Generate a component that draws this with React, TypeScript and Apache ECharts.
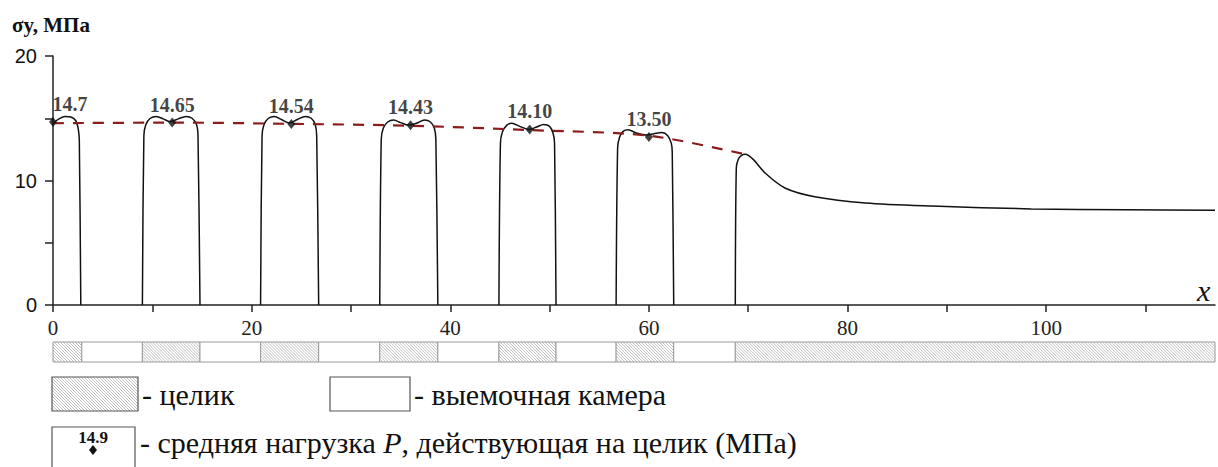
import React, { useEffect, useRef } from "react";
import * as echarts from "echarts";

// ---- data ----
const xTickValues = [0, 10, 20, 30, 40, 50, 60, 70, 80, 90, 100, 110];
const xLabelValues = [0, 20, 40, 60, 80, 100];
const yLabelValues = [0, 10, 20];

// stress curve over each pillar [x, sigma_y]
const pillar0 = [[0, 14.6], [0.6, 14.95], [1.2, 15.15], [1.8, 15.1], [2.3, 14.8], [2.55, 14.1], [2.65, 13.2], [2.8, 0]];
const pillar1 = [[9.0, 0], [9.15, 13.6], [9.35, 14.5], [9.8, 15.0], [10.4, 15.15], [11.1, 14.95], [11.8, 14.72], [12.6, 14.95], [13.4, 15.15], [14.0, 15.0], [14.45, 14.5], [14.6, 13.6], [14.8, 0]];
const pillar2 = [[20.9, 0], [21.05, 13.6], [21.25, 14.5], [21.7, 15.0], [22.3, 15.15], [23.0, 14.9], [23.8, 14.62], [24.6, 14.9], [25.4, 15.15], [26.0, 15.0], [26.4, 14.5], [26.55, 13.6], [26.75, 0]];
const pillar3 = [[32.9, 0], [33.05, 13.3], [33.25, 14.2], [33.7, 14.7], [34.3, 14.85], [35.0, 14.65], [35.8, 14.45], [36.6, 14.6], [37.4, 14.85], [38.0, 14.7], [38.4, 14.2], [38.55, 13.3], [38.75, 0]];
const pillar4 = [[44.9, 0], [45.05, 13.0], [45.25, 13.9], [45.7, 14.45], [46.2, 14.6], [47.0, 14.35], [47.9, 14.1], [48.7, 14.3], [49.4, 14.5], [50.0, 14.35], [50.35, 13.8], [50.5, 13.0], [50.65, 0]];
const pillar5 = [[56.7, 0], [56.85, 12.6], [57.05, 13.5], [57.4, 13.95], [57.9, 14.07], [58.8, 13.8], [59.7, 13.65], [60.5, 13.75], [61.3, 13.85], [61.9, 13.6], [62.25, 13.0], [62.35, 12.3], [62.5, 0]];
const massif = [[68.7, 0], [68.8, 11.0], [69.0, 11.7], [69.3, 12.0], [69.7, 12.1], [70.5, 11.7], [71.7, 10.6], [73.7, 9.4], [76.7, 8.7], [81.8, 8.2], [88.5, 7.95], [98.5, 7.72], [108, 7.65], [117, 7.62]];
const curves = [pillar0, pillar1, pillar2, pillar3, pillar4, pillar5, massif];

// mean load on pillars
const loadX = [0, 12, 24, 36, 48, 60];
const loadP = [14.7, 14.65, 14.54, 14.43, 14.1, 13.5];
const loadLabels = ["14.7", "14.65", "14.54", "14.43", "14.10", "13.50"];

// dashed envelope
const dashX = [0, 12, 24, 36, 48, 60, 69.7];
const dashY = [14.6, 14.65, 14.55, 14.4, 14.05, 13.6, 12.1];

// strip: [start, end, kind] kind 1 = pillar (целик), 0 = chamber
const stripSegments = [
  [0, 2.9, 1], [2.9, 9.0, 0], [9.0, 14.8, 1], [14.8, 20.9, 0], [20.9, 26.75, 1], [26.75, 32.9, 0],
  [32.9, 38.75, 1], [38.75, 44.9, 0], [44.9, 50.65, 1], [50.65, 56.7, 0], [56.7, 62.5, 1], [62.5, 68.7, 0], [68.7, 117, 1],
];

const X_MAX = 117;
const SERIF = "Liberation Serif";
const SANS = "Liberation Sans";
const HATCH = "#b0b0b0";

function hatch(x0: number, y0: number, x1: number, y1: number, step: number) {
  const out: any[] = [];
  for (let c = x0 - y1; c < x1 - y0; c += step) {
    const xa = Math.max(x0, y0 + c);
    const xb = Math.min(x1, y1 + c);
    if (xb > xa) {
      out.push({
        type: "line",
        shape: { x1: xa, y1: xa - c, x2: xb, y2: xb - c },
        style: { stroke: HATCH, lineWidth: 0.8 },
        silent: true,
      });
    }
  }
  return out;
}

function txt(x: number, y: number, text: string, size: number, extra: any = {}) {
  return {
    type: "text",
    x,
    y,
    style: {
      text,
      fontFamily: SERIF,
      fontSize: size,
      fill: "#111",
      verticalAlign: "middle",
      ...extra,
    },
  };
}

export default function App() {
  const ref = useRef<HTMLDivElement>(null);
  useEffect(() => {
    if (!ref.current) return;
    const chart = echarts.init(ref.current, null, { renderer: "svg" });

    const curveSeries = curves.map((c) => ({
      type: "line",
      xAxisIndex: 0,
      yAxisIndex: 0,
      data: c,
      smooth: 0.3,
      symbol: "none",
      lineStyle: { color: "#111", width: 1.5 },
      z: 2,
    }));

    const legendGraphic: any[] = [
      txt(12, 25, "σy, МПа", 21, { fontWeight: "bold" }),
      txt(1197, 290, "x", 30, { fontStyle: "italic" }),
      // legend row 1
      { type: "rect", shape: { x: 52, y: 377, width: 86, height: 34 }, style: { fill: "#fff", stroke: "none" } },
      ...hatch(52, 377, 138, 411, 3),
      { type: "rect", shape: { x: 52, y: 377, width: 86, height: 34 }, style: { fill: "none", stroke: "#555", lineWidth: 1.2 } },
      txt(142, 394, "- целик", 30),
      { type: "rect", shape: { x: 330, y: 377, width: 80, height: 34 }, style: { fill: "#fff", stroke: "#555", lineWidth: 1.2 } },
      txt(414, 394, "- выемочная камера", 30),
      // legend row 2
      { type: "rect", shape: { x: 52, y: 427, width: 83, height: 45 }, style: { fill: "#fff", stroke: "#555", lineWidth: 1.2 } },
      txt(93, 437, "14.9", 17, { fontWeight: "bold", align: "center" }),
      {
        type: "polygon",
        shape: { points: [[93, 445], [97, 450], [93, 455], [89, 450]] },
        style: { fill: "#111" },
      },
      txt(140, 442, "- средняя нагрузка {i|P}, действующая на целик (МПа)", 30, {
        rich: { i: { fontStyle: "italic", fontSize: 30, fontFamily: SERIF } },
      }),
    ];

    chart.setOption({
      animation: false,
      backgroundColor: "#fff",
      grid: [
        { left: 53, right: 3, top: 56, height: 249 },
        { left: 53, right: 3, top: 342, height: 20 },
      ],
      xAxis: [
        {
          type: "value",
          gridIndex: 0,
          min: 0,
          max: X_MAX,
          interval: 10,
          axisLine: { show: true, onZero: false, lineStyle: { color: "#222", width: 1.5 } },
          axisTick: { show: true, length: 7, customValues: xTickValues, lineStyle: { color: "#222", width: 1.5 } },
          axisLabel: {
            customValues: xLabelValues,
            margin: 12,
            fontFamily: SERIF,
            fontSize: 21,
            color: "#222",
          },
          splitLine: { show: false },
        },
        { type: "value", gridIndex: 1, min: 0, max: X_MAX, show: false },
      ],
      yAxis: [
        {
          type: "value",
          gridIndex: 0,
          min: 0,
          max: 20,
          interval: 5,
          axisLine: { show: true, lineStyle: { color: "#222", width: 1.5 } },
          axisTick: { show: true, length: 8, lineStyle: { color: "#222", width: 1.5 } },
          axisLabel: {
            customValues: yLabelValues,
            margin: 16,
            fontFamily: SANS,
            fontSize: 20,
            color: "#111",
          },
          splitLine: { show: false },
        },
        { type: "value", gridIndex: 1, min: 0, max: 1, show: false },
      ],
      series: [
        ...curveSeries,
        {
          type: "line",
          data: dashX.map((x, i) => [x, dashY[i]]),
          smooth: 0.3,
          symbol: "none",
          lineStyle: { color: "#8b1c1c", width: 2.2, type: [11, 9] },
          z: 3,
        },
        {
          type: "scatter",
          data: loadX.map((x, i) => ({
            value: [x, loadP[i]],
            label: i === 0 ? { offset: [17, 0] } : {},
          })),
          symbol: "diamond",
          symbolSize: [8, 10],
          itemStyle: { color: "#111" },
          label: {
            show: true,
            position: "top",
            distance: 3,
            formatter: (p: any) => loadLabels[p.dataIndex],
            fontFamily: SERIF,
            fontWeight: "bold",
            fontSize: 20,
            color: "#111",
          },
          z: 4,
        },
        {
          type: "custom",
          xAxisIndex: 1,
          yAxisIndex: 1,
          data: stripSegments,
          renderItem: (params: any, api: any) => {
            const s = api.value(0);
            const e = api.value(1);
            const k = api.value(2);
            const p0 = api.coord([s, 1]);
            const p1 = api.coord([e, 0]);
            const x0 = p0[0], y0 = p0[1], x1 = p1[0], y1 = p1[1];
            const children: any[] = [
              { type: "rect", shape: { x: x0, y: y0, width: x1 - x0, height: y1 - y0 }, style: { fill: "#fff" } },
            ];
            if (k === 1) children.push(...hatch(x0, y0, x1, y1, 3));
            children.push({
              type: "rect",
              shape: { x: x0, y: y0, width: x1 - x0, height: y1 - y0 },
              style: { fill: "none", stroke: "#9a9a9a", lineWidth: 1 },
            });
            return { type: "group", children };
          },
        },
      ],
      graphic: legendGraphic,
    });
    return () => chart.dispose();
  }, []);
  return (
    <div
      ref={ref}
      style={{ position: "absolute", left: 0, top: 0, width: 1218, height: 467, background: "#fff" }}
    />
  );
}
